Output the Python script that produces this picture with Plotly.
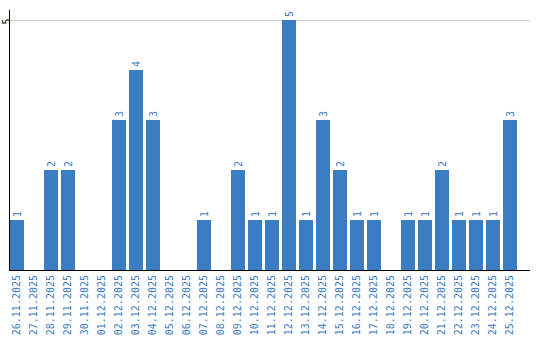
import plotly.graph_objects as go

dates = ["26.11.2025", "27.11.2025", "28.11.2025", "29.11.2025", "30.11.2025",
         "01.12.2025", "02.12.2025", "03.12.2025", "04.12.2025", "05.12.2025",
         "06.12.2025", "07.12.2025", "08.12.2025", "09.12.2025", "10.12.2025",
         "11.12.2025", "12.12.2025", "13.12.2025", "14.12.2025", "15.12.2025",
         "16.12.2025", "17.12.2025", "18.12.2025", "19.12.2025", "20.12.2025",
         "21.12.2025", "22.12.2025", "23.12.2025", "24.12.2025", "25.12.2025"]
counts = [1, 0, 2, 2, 0, 0, 3, 4, 3, 0, 0, 1, 0, 2, 1, 1, 5, 1, 3, 2,
          1, 1, 0, 1, 1, 2, 1, 1, 1, 3]
y_ticks = [5]

blue = "#3b7dc3"
font_family = "DejaVu Sans Mono"

fig = go.Figure(go.Bar(
    x=list(range(len(dates))),
    y=counts,
    text=[str(v) if v else "" for v in counts],
    textposition="outside",
    textangle=-90,
    textfont=dict(family=font_family, size=10, color=blue),
    marker=dict(color=blue, line=dict(width=0)),
    cliponaxis=False,
    width=14 / 17,
))

gap_half = 7 / 17
fig.update_layout(
    width=540, height=340,
    margin=dict(l=10, r=10, t=10, b=70, pad=0),
    paper_bgcolor="white", plot_bgcolor="white",
    showlegend=False,
    xaxis=dict(
        tickmode="array",
        tickvals=list(range(len(dates))),
        ticktext=dates,
        tickangle=-90,
        tickfont=dict(family=font_family, size=10, color=blue),
        range=[-gap_half, -gap_half + 520 / 17],
        showline=True, linecolor="black", linewidth=1,
        showgrid=False, zeroline=False, ticks="", ticklen=0,
        automargin=False,
    ),
    yaxis=dict(
        range=[0, 5.2],
        tickmode="array",
        tickvals=y_ticks,
        ticktext=[str(v) for v in y_ticks],
        tickangle=-90,
        tickfont=dict(family=font_family, size=10, color="black"),
        ticklabelstandoff=-5,
        ticklabelshift=3,
        showline=True, linecolor="black", linewidth=1,
        showgrid=True, gridcolor="#c8c8c8", gridwidth=1,
        zeroline=False, ticks="", ticklen=0,
        automargin=False,
    ),
)

fig.write_html("out.html")
